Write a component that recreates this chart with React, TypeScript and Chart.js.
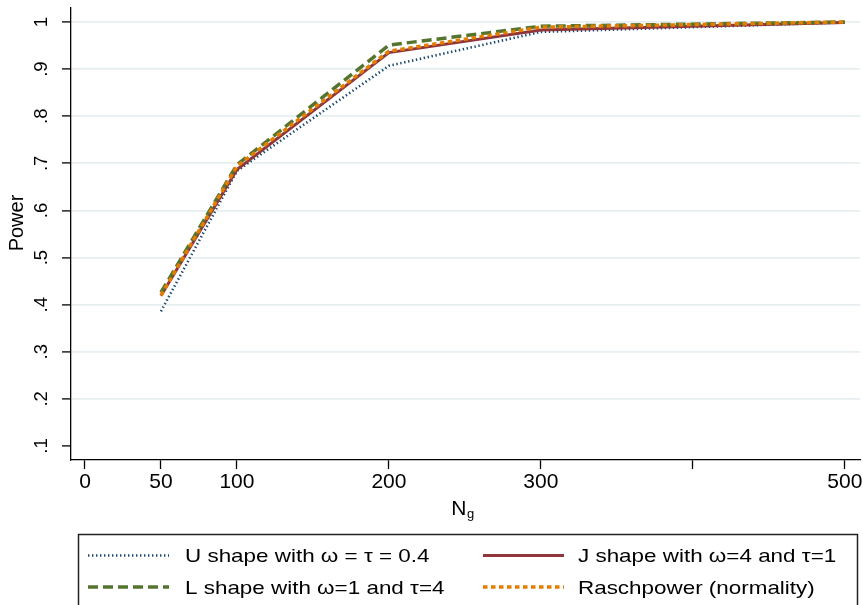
import React, { useEffect, useRef } from 'react';
import { Chart, registerables } from 'chart.js';

Chart.register(...registerables);

// ---- data ----
const sampleSizes = [50, 100, 200, 300, 500];
const uShape = [0.386, 0.684, 0.907, 0.979, 0.999];
const jShape = [0.419, 0.687, 0.935, 0.983, 0.999];
const lShape = [0.426, 0.697, 0.951, 0.991, 1.0];
const raschpower = [0.42, 0.694, 0.938, 0.989, 1.0];

const seriesLabels = [
  'U shape with ω = τ = 0.4',
  'J shape with ω=4 and τ=1',
  'L shape with ω=1 and τ=4',
  'Raschpower (normality)',
];

const xTickValues = [0, 50, 100, 200, 300, 400, 500];
const xTickLabels = ['0', '50', '100', '200', '300', '', '500'];
const yTickValues = [0.1, 0.2, 0.3, 0.4, 0.5, 0.6, 0.7, 0.8, 0.9, 1.0];
const yTickLabels = ['.1', '.2', '.3', '.4', '.5', '.6', '.7', '.8', '.9', '1'];

const xTitle = 'N';
const xTitleSub = 'g';
const yTitle = 'Power';

const SANS = '"Liberation Sans", Arial, Helvetica, sans-serif';
const NARROW = '"Liberation Sans Narrow", "Liberation Sans", Arial, sans-serif';

const toPoints = (ys: number[]) => sampleSizes.map((x, i) => ({ x, y: ys[i] }));

const overlayPlugin = {
  id: 'overlay',
  afterDraw(chart: any) {
    const ctx: CanvasRenderingContext2D = chart.ctx;
    const area = chart.chartArea;
    ctx.save();
    ctx.fillStyle = '#000';

    // y-axis title (rotated)
    ctx.save();
    ctx.font = '20px ' + NARROW;
    ctx.translate(area.left - 53.5, (area.top + area.bottom) / 2 - 11);
    ctx.rotate(-Math.PI / 2);
    ctx.textAlign = 'center';
    ctx.textBaseline = 'middle';
    ctx.fillText(yTitle, 0, 0);
    ctx.restore();

    // x-axis title N with subscript g
    const cx = (area.left + area.right) / 2;
    ctx.font = '21px ' + NARROW;
    const nW = ctx.measureText(xTitle).width;
    ctx.font = '13px ' + NARROW;
    const gW = ctx.measureText(xTitleSub).width;
    const startX = cx - (nW + gW) / 2 - 3;
    ctx.textAlign = 'left';
    ctx.textBaseline = 'alphabetic';
    ctx.font = '21px ' + NARROW;
    ctx.fillText(xTitle, startX, area.bottom + 55);
    ctx.font = '13px ' + NARROW;
    ctx.fillText(xTitleSub, startX + nW + 0.5, area.bottom + 57.5);

    // legend
    ctx.strokeStyle = '#222';
    ctx.lineWidth = 1.5;
    ctx.beginPath();
    ctx.moveTo(78.5, 612);
    ctx.lineTo(78.5, 534.5);
    ctx.lineTo(857.5, 534.5);
    ctx.lineTo(857.5, 612);
    ctx.stroke();

    const colSwatchX = [88, 483];
    const colTextX = [185, 578];
    const rowY = [555.5, 587];
    const swatchW = 81;
    const datasets = chart.data.datasets;
    datasets.forEach((ds: any, i: number) => {
      const col = i % 2;
      const row = Math.floor(i / 2);
      const y = rowY[row];
      ctx.save();
      ctx.strokeStyle = ds.borderColor;
      ctx.lineWidth = ds.borderWidth;
      ctx.setLineDash(ds.borderDash || []);
      ctx.lineCap = 'butt';
      ctx.beginPath();
      ctx.moveTo(colSwatchX[col], y);
      ctx.lineTo(colSwatchX[col] + swatchW, y);
      ctx.stroke();
      ctx.restore();

      ctx.save();
      ctx.font = '19px ' + SANS;
      ctx.textAlign = 'left';
      ctx.textBaseline = 'alphabetic';
      ctx.translate(colTextX[col], y + 6.5);
      ctx.scale(1.18, 1);
      ctx.fillText(ds.label, 0, 0);
      ctx.restore();
    });

    ctx.restore();
  },
};

export default function App() {
  const canvasRef = useRef<HTMLCanvasElement>(null);

  useEffect(() => {
    document.body.style.margin = '0';
    const canvas = canvasRef.current;
    if (!canvas) return;

    const chart = new Chart(canvas, {
      type: 'line',
      data: {
        datasets: [
          {
            label: seriesLabels[0],
            data: toPoints(uShape),
            borderColor: '#1a476f',
            borderWidth: 2.6,
            borderDash: [1.4, 2.6],
            pointRadius: 0,
            order: 3,
          },
          {
            label: seriesLabels[1],
            data: toPoints(jShape),
            borderColor: '#90353b',
            borderWidth: 3,
            pointRadius: 0,
            order: 2,
          },
          {
            label: seriesLabels[2],
            data: toPoints(lShape),
            borderColor: '#55752f',
            borderWidth: 3.5,
            borderDash: [10, 5],
            pointRadius: 0,
            order: 1,
          },
          {
            label: seriesLabels[3],
            data: toPoints(raschpower),
            borderColor: '#e37e00',
            borderWidth: 3.5,
            borderDash: [4.5, 3.5],
            pointRadius: 0,
            order: 0,
          },
        ],
      },
      options: {
        responsive: false,
        animation: false,
        devicePixelRatio: 1,
        layout: { padding: { top: 8, right: 3, left: 0, bottom: 0 } },
        plugins: {
          legend: { display: false },
          tooltip: { enabled: false },
        },
        elements: { line: { tension: 0, borderCapStyle: 'butt', borderJoinStyle: 'miter' } },
        scales: {
          x: {
            type: 'linear',
            min: -9.2,
            max: 510,
            afterBuildTicks: (scale: any) => {
              scale.ticks = xTickValues.map((v) => ({ value: v }));
            },
            afterFit: (scale: any) => {
              scale.height = 145;
              scale.paddingLeft = 0;
              scale.paddingRight = 0;
            },
            ticks: {
              autoSkip: false,
              maxRotation: 0,
              minRotation: 0,
              padding: 1,
              color: '#000',
              font: { family: SANS, size: 21 },
              callback: (value: any) => {
                const idx = xTickValues.indexOf(Number(value));
                return idx >= 0 ? xTickLabels[idx] : '';
              },
            },
            grid: {
              display: true,
              drawOnChartArea: false,
              drawTicks: true,
              tickLength: 9,
              tickColor: '#000',
              tickWidth: 1.3,
            },
            border: { display: true, color: '#000', width: 1.3 },
          },
          y: {
            type: 'linear',
            min: 0.0703,
            max: 1.0297,
            afterBuildTicks: (scale: any) => {
              scale.ticks = yTickValues.map((v) => ({ value: v }));
            },
            afterFit: (scale: any) => {
              scale.width = 71;
              scale.paddingTop = 0;
              scale.paddingBottom = 0;
            },
            ticks: {
              autoSkip: false,
              minRotation: 90,
              maxRotation: 90,
              crossAlign: 'center',
              padding: 12,
              color: '#000',
              font: { family: NARROW, size: 18.5 },
              callback: (value: any) => {
                const idx = yTickValues.findIndex((v) => Math.abs(v - Number(value)) < 1e-6);
                return idx >= 0 ? yTickLabels[idx] : '';
              },
            },
            grid: {
              display: true,
              drawOnChartArea: true,
              drawTicks: true,
              tickLength: 9,
              tickColor: '#000',
              tickWidth: 1.3,
              lineWidth: 1.8,
              color: (ctx: any) =>
                ctx.tick && ctx.tick.value < 0.15 ? 'rgba(0,0,0,0)' : '#e6eef1',
            },
            border: { display: true, color: '#000', width: 1.3 },
          },
        },
      },
      plugins: [overlayPlugin],
    } as any);

    return () => chart.destroy();
  }, []);

  return (
    <div style={{ width: 863, height: 605, position: 'relative', background: '#fff' }}>
      <canvas ref={canvasRef} width={863} height={605} style={{ display: 'block' }} />
    </div>
  );
}
